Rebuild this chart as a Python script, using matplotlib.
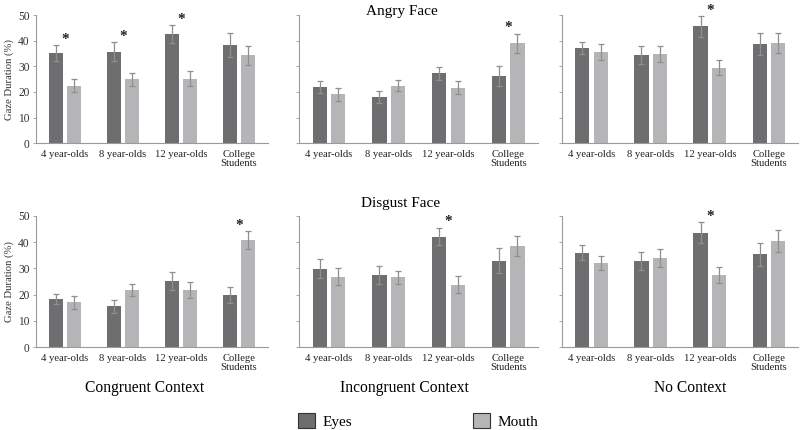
import numpy as np
import matplotlib
matplotlib.use("Agg")
import matplotlib.pyplot as plt
from matplotlib.patches import Patch

plt.rcParams['font.family'] = ['Liberation Serif', 'DejaVu Serif']

# datos
grupos = ["4 year-olds", "8 year-olds", "12 year-olds", "College\nStudents"]
contextos = ["Congruent Context", "Incongruent Context", "No Context"]
caras = ["Angry Face", "Disgust Face"]

ojos_ira = [[35.1, 35.7, 42.6, 38.2], [21.9, 18.0, 27.2, 26.2], [37.1, 34.4, 45.6, 38.8]]
ojos_ira_err = [[3.2, 3.6, 3.4, 4.7], [2.4, 2.4, 2.6, 3.8], [2.2, 3.6, 4.0, 4.3]]
boca_ira = [[22.5, 24.9, 25.2, 34.3], [19.1, 22.5, 21.7, 39.0], [35.7, 34.9, 29.5, 39.1]]
boca_ira_err = [[2.5, 2.4, 3.0, 3.7], [2.6, 2.0, 2.6, 3.8], [3.1, 3.1, 2.9, 4.0]]
sig_ira = [[0, 1, 2], [3], [2]]

ojos_asco = [[18.3, 15.5, 25.2, 19.8], [29.8, 27.5, 42.1, 32.9], [36.0, 32.8, 43.6, 35.3]]
ojos_asco_err = [[2.0, 2.4, 3.3, 3.0], [3.6, 3.3, 3.4, 4.7], [2.8, 3.6, 3.9, 4.4]]
boca_asco = [[17.1, 21.7, 21.7, 40.7], [26.8, 26.6, 23.8, 38.6], [32.0, 34.0, 27.5, 40.5]]
boca_asco_err = [[2.5, 2.3, 2.9, 3.5], [3.3, 2.4, 3.1, 3.9], [2.6, 3.5, 3.0, 4.1]]
sig_asco = [[3], [2], [2]]

color_ojos = "#6e6e70"
color_boca = "#b5b5b7"
color_err = "#8f8f8f"
color_eje = "#9a9a9a"

fig = plt.figure(figsize=(8, 4.3), dpi=100)

izq = [0.045, 0.374, 0.7025]
ancho = [0.29, 0.2985, 0.2955]
abajo = [0.667, 0.193]
alto = [0.298, 0.305]

filas = [
    (ojos_ira, ojos_ira_err, boca_ira, boca_ira_err, sig_ira),
    (ojos_asco, ojos_asco_err, boca_asco, boca_asco_err, sig_asco),
]

x = np.arange(len(grupos))
w = 0.24
d = 0.155

for i, (oj, oje, bo, boe, sig) in enumerate(filas):
    for j in range(3):
        ax = fig.add_axes([izq[j], abajo[i], ancho[j], alto[i]])
        ax.bar(x - d, oj[j], w, color=color_ojos, yerr=oje[j],
               error_kw=dict(ecolor=color_err, capsize=2.5, elinewidth=0.9, capthick=0.9))
        ax.bar(x + d, bo[j], w, color=color_boca, yerr=boe[j],
               error_kw=dict(ecolor=color_err, capsize=2.5, elinewidth=0.9, capthick=0.9))
        for k in sig[j]:
            tope = max(oj[j][k] + oje[j][k], bo[j][k] + boe[j][k])
            ax.text(x[k], tope + 2.3, "*", ha="center", va="center", fontsize=11,
                    fontweight="bold", color="#222222")
        ax.set_xlim(-0.5, 3.5)
        ax.set_ylim(0, 50)
        ax.set_yticks([0, 10, 20, 30, 40, 50])
        ax.set_xticks(x)
        ax.set_xticklabels(grupos, fontsize=7.7, color="#222222", linespacing=1.0)
        ax.tick_params(axis="x", length=0, pad=5)
        ax.tick_params(axis="y", length=2.5, width=0.6, color=color_eje, labelsize=8.3,
                       labelcolor="#333333", pad=2)
        for s in ["top", "right"]:
            ax.spines[s].set_visible(False)
        for s in ["left", "bottom"]:
            ax.spines[s].set_color(color_eje)
            ax.spines[s].set_linewidth(0.8)
        if j == 0:
            ax.set_ylabel("Gaze Duration (%)", fontsize=7.7, color="#333333", labelpad=3)
        else:
            ax.set_yticklabels([])

fig.text(402 / 800, 1 - 12 / 430, caras[0], ha="center", va="center", fontsize=11)
fig.text(401 / 800, 1 - 204 / 430, caras[1], ha="center", va="center", fontsize=11)

for cx, t in zip([145, 404, 690], contextos):
    fig.text(cx / 800, 1 - 388 / 430, t, ha="center", va="center", fontsize=11.2)

handles = [Patch(facecolor=color_ojos, edgecolor="#333333", linewidth=0.8, label="Eyes"),
           Patch(facecolor=color_boca, edgecolor="#333333", linewidth=0.8, label="Mouth")]
fig.legend(handles=handles, loc="center", bbox_to_anchor=(418 / 800, 1 - 421 / 430), ncol=2,
           frameon=False, fontsize=11, handlelength=1.1, handleheight=1.1,
           handletextpad=0.5, columnspacing=7.9)

plt.savefig("out.png", dpi=100)
